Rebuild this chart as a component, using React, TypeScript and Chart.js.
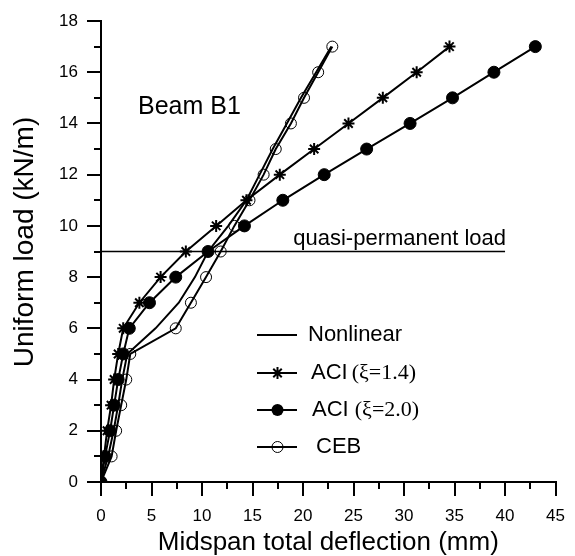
import React, { useEffect, useRef } from 'react';
import { Chart, registerables } from 'chart.js';

Chart.register(...registerables);

// Uniform load (kN/m) levels
const LOADS = [0, 1, 2, 3, 4, 5, 6, 7, 8, 9, 10, 11, 12, 13, 14, 15, 16, 17];
// Midspan total deflection (mm)
const NONLINEAR_DEFL = [0, 0.7, 1.25, 1.7, 2.1, 2.6, 5.4, 7.7, 9.3, 10.6, 12.6, 14.4, 15.7, 17.0, 18.4, 19.8, 21.3, 22.8];
const ACI_14_DEFL = [0, 0.3, 0.6, 1.0, 1.3, 1.7, 2.2, 3.8, 5.9, 8.4, 11.4, 14.4, 17.7, 21.1, 24.5, 27.9, 31.25, 34.5];
const ACI_20_DEFL = [0, 0.4, 0.9, 1.3, 1.7, 2.2, 2.8, 4.8, 7.4, 10.6, 14.2, 18.0, 22.1, 26.3, 30.6, 34.8, 38.9, 43.0];
const CEB_DEFL = [0, 1.05, 1.5, 2.0, 2.5, 2.9, 7.4, 8.9, 10.4, 11.85, 13.2, 14.7, 16.1, 17.3, 18.8, 20.1, 21.5, 22.9];

const QUASI_LOAD = 9;
const QUASI_X = [0, 40];

const X_MIN = 0, X_MAX = 45, X_STEP = 2.5, X_LABEL_EVERY = 5;
const Y_MIN = 0, Y_MAX = 18, Y_STEP = 1, Y_LABEL_EVERY = 2;

const SANS = '"Liberation Sans", Arial, sans-serif';
const SERIF = '"Liberation Serif", "Times New Roman", serif';

const toPoints = (xs: number[], ys: number[]) => xs.map((x, i) => ({ x, y: ys[i] }));

const isMult = (v: number, m: number) => Math.abs(v / m - Math.round(v / m)) < 1e-6;

function drawStar(ctx: CanvasRenderingContext2D, x: number, y: number, r: number) {
  ctx.beginPath();
  for (let k = 0; k < 4; k++) {
    const a = (k * Math.PI) / 4;
    ctx.moveTo(x - r * Math.cos(a), y - r * Math.sin(a));
    ctx.lineTo(x + r * Math.cos(a), y + r * Math.sin(a));
  }
  ctx.stroke();
}

const overlayPlugin = {
  id: 'overlay',
  afterDraw(chart: any) {
    const ctx: CanvasRenderingContext2D = chart.ctx;
    const xs = chart.scales.x;
    const ys = chart.scales.y;
    const area = chart.chartArea;
    ctx.save();
    ctx.strokeStyle = '#000';
    ctx.fillStyle = '#000';
    ctx.lineWidth = 2;
    ctx.lineCap = 'butt';
    // ticks (major 14px, minor 7px)
    for (let v = X_MIN; v <= X_MAX + 1e-9; v += X_STEP) {
      const len = isMult(v, X_LABEL_EVERY) ? 14 : 7;
      const px = Math.round(xs.getPixelForValue(v));
      ctx.beginPath();
      ctx.moveTo(px, area.bottom);
      ctx.lineTo(px, area.bottom + len);
      ctx.stroke();
    }
    for (let v = Y_MIN; v <= Y_MAX + 1e-9; v += Y_STEP) {
      const len = isMult(v, Y_LABEL_EVERY) ? 14 : 7;
      const py = Math.round(ys.getPixelForValue(v));
      ctx.beginPath();
      ctx.moveTo(area.left, py);
      ctx.lineTo(area.left - len, py);
      ctx.stroke();
    }

    // axis titles
    ctx.textBaseline = 'alphabetic';
    ctx.font = `26px ${SANS}`;
    ctx.textAlign = 'center';
    ctx.fillText('Midspan total deflection (mm)', (area.left + area.right) / 2, 550);
    ctx.save();
    ctx.translate(33, 242);
    ctx.rotate(-Math.PI / 2);
    ctx.font = `28px ${SANS}`;
    ctx.fillText('Uniform load (kN/m)', 0, 0);
    ctx.restore();

    // Beam label
    ctx.textAlign = 'left';
    ctx.font = `25px ${SANS}`;
    ctx.fillText('Beam B1', 138, 114);

    // quasi-permanent label
    ctx.textAlign = 'right';
    ctx.font = `22px ${SANS}`;
    ctx.fillText('quasi-permanent load', xs.getPixelForValue(QUASI_X[1]) + 1, ys.getPixelForValue(QUASI_LOAD) - 7);

    // legend
    const lx0 = 257, lx1 = 297, mx = 277.5;
    const rows = [335, 373, 410, 447];
    ctx.lineWidth = 2;
    rows.forEach((y) => {
      ctx.beginPath();
      ctx.moveTo(lx0, y);
      ctx.lineTo(lx1, y);
      ctx.stroke();
    });
    ctx.lineWidth = 2;
    drawStar(ctx, mx, rows[1], 6);
    ctx.beginPath();
    ctx.arc(mx, rows[2], 6, 0, Math.PI * 2);
    ctx.fill();
    ctx.lineWidth = 1;
    ctx.beginPath();
    ctx.arc(mx, rows[3], 5.5, 0, Math.PI * 2);
    ctx.stroke();

    ctx.textAlign = 'left';
    ctx.textBaseline = 'middle';
    ctx.font = `22px ${SANS}`;
    ctx.fillText('Nonlinear', 308, rows[0]);
    ctx.fillText('ACI', 311, rows[1]);
    let w = ctx.measureText('ACI').width;
    ctx.font = `22px ${SERIF}`;
    ctx.fillText('(\u03BE=1.4)', 311 + w + 4, rows[1]);
    ctx.font = `22px ${SANS}`;
    ctx.fillText('ACI', 312, rows[2]);
    w = ctx.measureText('ACI ').width;
    ctx.font = `22px ${SERIF}`;
    ctx.fillText('(\u03BE=2.0)', 312 + w, rows[2]);
    ctx.font = `22px ${SANS}`;
    ctx.fillText('CEB', 316, rows[3]);
    ctx.restore();
  },
};

export default function App() {
  const ref = useRef<HTMLCanvasElement | null>(null);

  useEffect(() => {
    if (!ref.current) return;
    const base = {
      showLine: true,
      borderColor: '#000',
      borderWidth: 2,
      tension: 0,
      fill: false,
    };
    const chart = new Chart(ref.current, {
      type: 'scatter',
      data: {
        datasets: [
          {
            ...base,
            label: 'quasi-permanent load',
            data: QUASI_X.map((x) => ({ x, y: QUASI_LOAD })),
            borderWidth: 1.5,
            pointRadius: 0,
          },
          {
            ...base,
            label: 'Nonlinear',
            data: toPoints(NONLINEAR_DEFL, LOADS),
            pointRadius: 0,
          },
          {
            ...base,
            label: 'CEB',
            data: toPoints(CEB_DEFL, LOADS),
            pointStyle: 'circle',
            pointRadius: 5.5,
            pointBorderWidth: 1,
            pointBorderColor: '#000',
            pointBackgroundColor: 'rgba(0,0,0,0)',
          },
          {
            ...base,
            label: 'ACI (ξ=1.4)',
            data: toPoints(ACI_14_DEFL, LOADS),
            pointStyle: 'star',
            pointRadius: 6,
            pointBorderWidth: 2,
            pointBorderColor: '#000',
            pointBackgroundColor: '#000',
          },
          {
            ...base,
            label: 'ACI (ξ=2.0)',
            data: toPoints(ACI_20_DEFL, LOADS),
            pointStyle: 'circle',
            pointRadius: 6,
            pointBorderWidth: 1,
            pointBorderColor: '#000',
            pointBackgroundColor: '#000',
          },
        ],
      },
      options: {
        animation: false,
        responsive: false,
        devicePixelRatio: 1,
        layout: { padding: { left: 0, right: 13, top: 21, bottom: 0 } },
        plugins: {
          legend: { display: false },
          tooltip: { enabled: false },
          title: { display: false },
        },
        scales: {
          x: {
            type: 'linear',
            min: X_MIN,
            max: X_MAX,
            afterFit: (s: any) => { s.height = 74; },
            afterBuildTicks: (s: any) => {
              const t = [];
              for (let v = X_MIN; v <= X_MAX + 1e-9; v += X_STEP) t.push({ value: v });
              s.ticks = t;
            },
            ticks: {
              autoSkip: false,
              maxRotation: 0,
              padding: 10,
              color: '#000',
              font: { family: SANS, size: 17 },
              callback: (v: any) => (isMult(Number(v), X_LABEL_EVERY) ? String(v) : ''),
            },
            grid: {
              drawOnChartArea: false,
              drawTicks: true,
              tickLength: 14,
              lineWidth: 2,
              color: 'rgba(0,0,0,0)',
            },
            border: { display: true, color: '#000', width: 2 },
          },
          y: {
            type: 'linear',
            min: Y_MIN,
            max: Y_MAX,
            afterFit: (s: any) => { s.width = 101; },
            afterBuildTicks: (s: any) => {
              const t = [];
              for (let v = Y_MIN; v <= Y_MAX + 1e-9; v += Y_STEP) t.push({ value: v });
              s.ticks = t;
            },
            ticks: {
              autoSkip: false,
              padding: 9,
              color: '#000',
              font: { family: SANS, size: 17 },
              callback: (v: any) => (isMult(Number(v), Y_LABEL_EVERY) ? String(v) : ''),
            },
            grid: {
              drawOnChartArea: false,
              drawTicks: true,
              tickLength: 14,
              lineWidth: 2,
              color: 'rgba(0,0,0,0)',
            },
            border: { display: true, color: '#000', width: 2 },
          },
        },
      },
      plugins: [overlayPlugin],
    } as any);
    return () => chart.destroy();
  }, []);

  return (
    <div style={{ position: 'absolute', left: 0, top: 0, width: 575, height: 556, background: '#fff' }}>
      <canvas ref={ref} width={575} height={556} style={{ width: 575, height: 556, display: 'block' }} />
    </div>
  );
}
